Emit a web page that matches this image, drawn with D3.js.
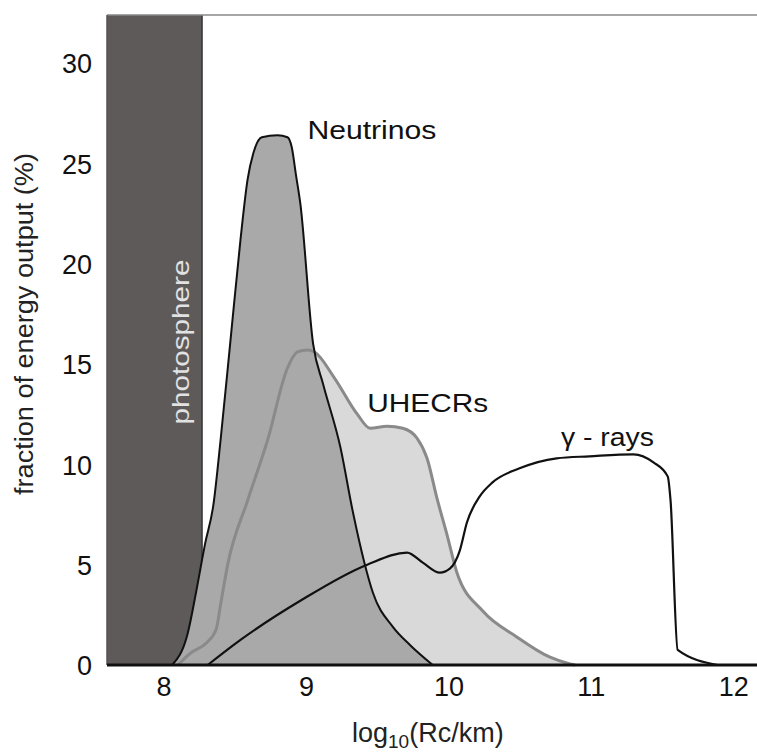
<!DOCTYPE html>
<html>
<head>
<meta charset="utf-8">
<script src="https://cdn.jsdelivr.net/npm/d3@7"></script>
<style>
  body { margin: 0; background: #fff; }
  text { font-family: "Liberation Sans", Arial, Helvetica, sans-serif; }
</style>
</head>
<body>
<div id="chart"></div>
<script>
// values (x = log10(Rc/km), y = % of energy output)
var xTicks = [8, 9, 10, 11, 12];
var yTicks = [0, 5, 10, 15, 20, 25, 30];
var photosphereEdge = 8.27;

var neutrinoX = [8.06, 8.17, 8.23, 8.29, 8.35, 8.40, 8.47, 8.54, 8.59, 8.63, 8.69, 8.80, 8.87, 8.90, 8.93, 8.96, 9.05, 9.12, 9.24, 9.33, 9.41, 9.47, 9.61, 9.73, 9.89];
var neutrinoY = [0, 1.6, 3.7, 6.0, 8.0, 11.2, 16.2, 21.2, 24.2, 25.5, 26.3, 26.4, 26.3, 25.8, 24.4, 23.0, 16.0, 14.0, 10.9, 7.6, 5.1, 3.6, 1.9, 1.0, 0];

var uhecrX = [8.10, 8.19, 8.30, 8.37, 8.40, 8.45, 8.59, 8.73, 8.87, 8.94, 9.01, 9.06, 9.20, 9.36, 9.45, 9.57, 9.68, 9.78, 9.85, 9.92, 9.99, 10.06, 10.24, 10.48, 10.71, 10.83, 10.89];
var uhecrY = [0, 0.6, 1.1, 1.8, 3.0, 5.0, 8.2, 11.2, 14.8, 15.6, 15.7, 15.6, 14.3, 12.5, 11.8, 11.9, 11.8, 11.3, 10.3, 8.3, 6.5, 4.6, 2.7, 1.4, 0.4, 0.1, 0];

var gammaX = [8.31, 8.54, 8.96, 9.43, 9.71, 9.82, 9.94, 10.01, 10.08, 10.13, 10.22, 10.31, 10.50, 10.76, 10.99, 11.30, 11.44, 11.54, 11.56, 11.61, 11.89];
var gammaY = [0, 1.25, 3.2, 5.0, 5.6, 5.1, 4.6, 4.8, 5.7, 7.1, 8.4, 9.1, 9.8, 10.3, 10.4, 10.5, 10.1, 9.4, 8.2, 0.75, 0];

var seriesNames = ["Neutrinos", "UHECRs", "\u03b3 - rays"];
var labelX = [9.01, 9.43, 10.79];
var labelY = [26.2, 12.6, 10.9];

var W = 757, H = 755;
var x = d3.scaleLinear().domain([8, 12]).range([163.6, 733.2]);
var y = d3.scaleLinear().domain([0, 30]).range([665, 63]);
var plotL = 107, plotR = W, plotT = 15, plotB = 665;

var svg = d3.select("#chart").append("svg")
    .attr("width", W)
    .attr("height", H);

function pts(xs, ys) {
    return xs.map(function(v, i) { return [v, ys[i]]; });
}

var area = d3.area()
    .x(function(d) { return x(d[0]); })
    .y0(y(0))
    .y1(function(d) { return y(d[1]); })
    .curve(d3.curveMonotoneX);
var line = d3.line()
    .x(function(d) { return x(d[0]); })
    .y(function(d) { return y(d[1]); })
    .curve(d3.curveMonotoneX);

// photosphere band
svg.append("rect")
    .attr("x", plotL).attr("y", plotT)
    .attr("width", x(photosphereEdge) - plotL)
    .attr("height", plotB - plotT)
    .attr("fill", "#5e5a5a");
svg.append("line")
    .attr("x1", x(photosphereEdge)).attr("x2", x(photosphereEdge))
    .attr("y1", plotT).attr("y2", plotB)
    .attr("stroke", "#3a3636").attr("stroke-width", 1.5);

var uhecr = pts(uhecrX, uhecrY),
    neutrino = pts(neutrinoX, neutrinoY),
    gamma = pts(gammaX, gammaY);

svg.append("path").attr("d", area(uhecr)).attr("fill", "#d9d9d9");
svg.append("path").attr("d", area(neutrino)).attr("fill", "#a9a9a9");
svg.append("path").attr("d", line(uhecr))
    .attr("fill", "none").attr("stroke", "#8a8a8a").attr("stroke-width", 3);
svg.append("path").attr("d", line(neutrino))
    .attr("fill", "none").attr("stroke", "#111").attr("stroke-width", 2);
svg.append("path").attr("d", line(gamma))
    .attr("fill", "none").attr("stroke", "#111").attr("stroke-width", 2.2);

// band label
svg.append("text")
    .attr("transform", "translate(189," + 342 + ") rotate(-90)")
    .attr("text-anchor", "middle")
    .attr("textLength", 165)
    .attr("lengthAdjust", "spacingAndGlyphs")
    .style("font-size", "24px")
    .attr("fill", "#e2e2e2")
    .text("photosphere");

// frame
svg.append("line")
    .attr("x1", plotL).attr("x2", plotR).attr("y1", plotT).attr("y2", plotT)
    .attr("stroke", "#888").attr("stroke-width", 1.5);
svg.append("line")
    .attr("x1", plotL).attr("x2", plotL).attr("y1", plotT).attr("y2", plotB)
    .attr("stroke", "#555").attr("stroke-width", 1.5);
svg.append("line")
    .attr("x1", plotL).attr("x2", plotR).attr("y1", plotB).attr("y2", plotB)
    .attr("stroke", "#111").attr("stroke-width", 3);

// axes (labels only, no tick marks)
var gx = svg.append("g")
    .attr("transform", "translate(0," + plotB + ")")
    .call(d3.axisBottom(x).tickValues(xTicks).tickFormat(d3.format("d")).tickSize(0).tickPadding(12));
var gy = svg.append("g")
    .attr("transform", "translate(" + plotL + ",0)")
    .call(d3.axisLeft(y).tickValues(yTicks).tickFormat(d3.format("d")).tickSize(0).tickPadding(15));
[gx, gy].forEach(function(g) {
    g.select(".domain").remove();
    g.selectAll("text")
        .style("font-family", "'Liberation Sans', Arial, sans-serif")
        .style("font-size", "27px")
        .attr("fill", "#111");
});
gy.selectAll("text").attr("dy", "0.36em");

// axis titles
svg.append("text")
    .attr("transform", "translate(33," + 324 + ") rotate(-90)")
    .attr("text-anchor", "middle")
    .attr("textLength", 342)
    .attr("lengthAdjust", "spacingAndGlyphs")
    .style("font-size", "25px")
    .attr("fill", "#222")
    .text("fraction of energy output (%)");

var xt = svg.append("text")
    .attr("x", 352).attr("y", 742)
    .style("font-size", "27px")
    .attr("fill", "#222");
xt.append("tspan").text("log");
xt.append("tspan").attr("dy", 6).style("font-size", "19px").text("10");
xt.append("tspan").attr("dy", -6).text("(Rc/km)");

// series labels
var labelW = [129, 121, 93];
seriesNames.forEach(function(name, i) {
    svg.append("text")
        .attr("x", x(labelX[i]))
        .attr("y", y(labelY[i]))
        .attr("textLength", labelW[i])
        .attr("lengthAdjust", "spacingAndGlyphs")
        .style("font-size", "25px")
        .attr("fill", "#111")
        .text(name);
});
</script>
</body>
</html>
